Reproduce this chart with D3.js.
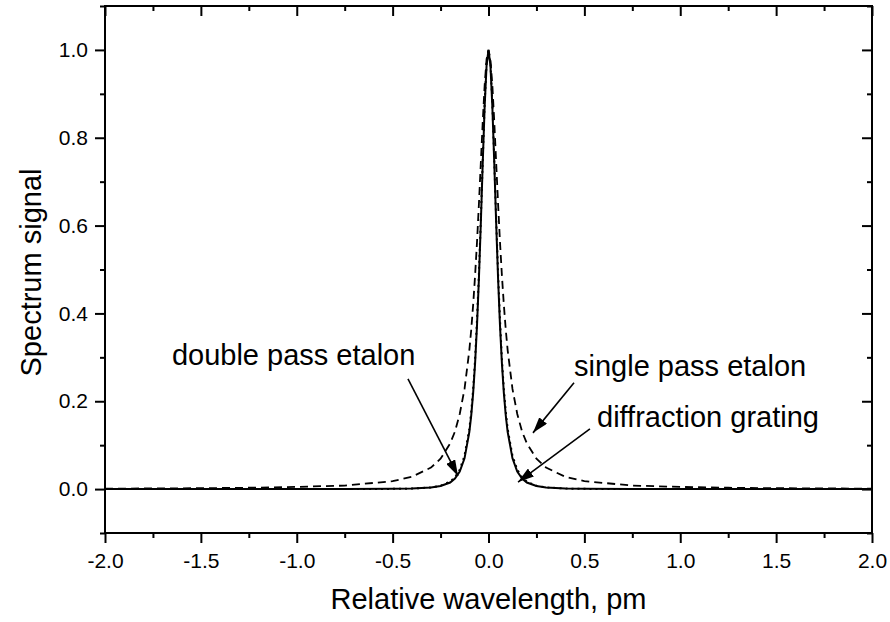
<!DOCTYPE html>
<html>
<head>
<meta charset="utf-8">
<script src="https://cdn.jsdelivr.net/npm/d3@7"></script>
<style>
  body { margin: 0; background: #fff; }
  svg { display: block; font-family: "Liberation Sans", Arial, sans-serif; }
</style>
</head>
<body>
<svg id="chart" width="890" height="622"></svg>
<script>
// relative wavelength grid, pm
var xs = [-2.0,-1.75,-1.5,-1.25,-1.0,-0.75,-0.5,-0.4,-0.3,-0.25,-0.2,-0.175,-0.15,-0.125,-0.1,-0.09,-0.08,-0.07,-0.06,-0.05,-0.04,-0.03,-0.02,-0.01,
  0,
  0.01,0.02,0.03,0.04,0.05,0.06,0.07,0.08,0.09,0.1,0.125,0.15,0.175,0.2,0.25,0.3,0.4,0.5,0.75,1.0,1.25,1.5,1.75,2.0];

// single pass etalon (dashed)
var singlePass = [.001,.0015,.002,.003,.005,.008,.018,.028,.049,.069,.104,.131,.171,.228,.316,.363,.420,.486,.562,.649,.743,.837,.920,.979,
  1,
  .979,.920,.837,.743,.649,.562,.486,.420,.363,.316,.228,.171,.131,.104,.069,.049,.028,.018,.008,.005,.003,.002,.0015,.001];

// double pass etalon (solid)
var doublePass = [0,0,0,0,0,.0001,.0005,.0012,.0035,.007,.015,.024,.040,.070,.130,.168,.219,.286,.372,.479,.606,.743,.872,.965,
  1,
  .965,.872,.743,.606,.479,.372,.286,.219,.168,.130,.070,.040,.024,.015,.007,.0035,.0012,.0005,.0001,0,0,0,0,0];

// diffraction grating (dotted)
var grating = [0,0,0,0,0,.0001,.0005,.0012,.0038,.0075,.017,.027,.044,.076,.137,.176,.228,.295,.385,.490,.615,.750,.880,.970,
  1,
  .970,.880,.750,.615,.490,.385,.295,.228,.176,.137,.076,.044,.027,.017,.0075,.0038,.0012,.0005,.0001,0,0,0,0,0];

var xTicks = [-2.0,-1.5,-1.0,-0.5,0.0,0.5,1.0,1.5,2.0];
var xMinor = [-1.75,-1.25,-0.75,-0.25,0.25,0.75,1.25,1.75];
var yTicks = [0.0,0.2,0.4,0.6,0.8,1.0];
var yMinor = [-0.1,0.1,0.3,0.5,0.7,0.9,1.1];

// annotation text, label anchor and arrow tail/tip in data units
var labels = ["double pass etalon", "single pass etalon", "diffraction grating"];
var labelAt = [[-1.651, 0.283], [0.446, 0.2575], [0.566, 0.141]];
var arrowFrom = [[-0.42, 0.251], [0.446, 0.242], [0.529, 0.137]];
var arrowTo = [[-0.159, 0.030], [0.232, 0.128], [0.154, 0.016]];

(function() {
var pLeft = 105, pRight = 872, pTop = 6, pBottom = 533;

var svg = d3.select("#chart");

var x = d3.scaleLinear().domain([-2, 2]).range([pLeft, pRight]);
var y = d3.scaleLinear().domain([-0.1, 1.1]).range([pBottom, pTop]);

var defs = svg.append("defs");
defs.append("clipPath").attr("id", "clip")
  .append("rect").attr("x", pLeft).attr("y", pTop).attr("width", pRight - pLeft).attr("height", pBottom - pTop);

defs.append("marker")
  .attr("id", "arrow")
  .attr("markerUnits", "userSpaceOnUse")
  .attr("viewBox", "0 0 16 10")
  .attr("refX", 16).attr("refY", 5)
  .attr("markerWidth", 16).attr("markerHeight", 10)
  .attr("orient", "auto")
  .append("path").attr("d", "M0,0 L16,5 L0,10 Z").attr("fill", "#000");

// plain hyphen minus like the original
var fmt = function(d) { return d3.format(".1f")(d).replace("\u2212", "-"); };

// axes: bottom/left ticks outward, top/right mirrored inward
svg.append("g").attr("transform", "translate(0," + pBottom + ")")
  .call(d3.axisBottom(x).tickValues(xTicks).tickSize(10).tickPadding(10).tickFormat(fmt));
svg.append("g").attr("transform", "translate(0," + pBottom + ")")
  .call(d3.axisBottom(x).tickValues(xMinor).tickSize(5).tickFormat(""));
svg.append("g").attr("transform", "translate(0," + pTop + ")")
  .call(d3.axisBottom(x).tickValues(xTicks).tickSize(10).tickFormat(""));
svg.append("g").attr("transform", "translate(0," + pTop + ")")
  .call(d3.axisBottom(x).tickValues(xMinor).tickSize(5).tickFormat(""));

svg.append("g").attr("transform", "translate(" + pLeft + ",0)")
  .call(d3.axisLeft(y).tickValues(yTicks).tickSize(10).tickPadding(7).tickFormat(fmt));
svg.append("g").attr("transform", "translate(" + pLeft + ",0)")
  .call(d3.axisLeft(y).tickValues(yMinor).tickSize(5).tickFormat(""));
svg.append("g").attr("transform", "translate(" + pRight + ",0)")
  .call(d3.axisLeft(y).tickValues(yTicks).tickSize(10).tickFormat(""));
svg.append("g").attr("transform", "translate(" + pRight + ",0)")
  .call(d3.axisLeft(y).tickValues(yMinor).tickSize(5).tickFormat(""));

svg.selectAll(".domain").remove();
svg.selectAll(".tick line").attr("stroke", "#000").attr("stroke-width", 2);
svg.selectAll(".tick text").attr("fill", "#000").style("font-size", "21px")
  .style("font-family", "'Liberation Sans', Arial, sans-serif");

svg.append("rect")
  .attr("x", pLeft).attr("y", pTop).attr("width", pRight - pLeft).attr("height", pBottom - pTop)
  .attr("fill", "none").attr("stroke", "#000").attr("stroke-width", 2);

// curves
var line = d3.line()
  .x(function(d) { return x(d[0]); })
  .y(function(d) { return y(d[1]); });

var series = [
  { vals: singlePass, dash: "8,5", width: 1.8 },
  { vals: grating, dash: "2,4", width: 2 },
  { vals: doublePass, dash: null, width: 2 }
];

series.forEach(function(s) {
  svg.append("path")
    .datum(xs.map(function(v, i) { return [v, s.vals[i]]; }))
    .attr("clip-path", "url(#clip)")
    .attr("fill", "none")
    .attr("stroke", "#000")
    .attr("stroke-width", s.width)
    .attr("stroke-dasharray", s.dash)
    .attr("d", line);
});

// annotations
for (var i = 0; i < labels.length; i++) {
  svg.append("text")
    .attr("x", x(labelAt[i][0])).attr("y", y(labelAt[i][1]))
    .style("font-size", "29px").attr("fill", "#000")
    .text(labels[i]);
  svg.append("line")
    .attr("x1", x(arrowFrom[i][0])).attr("y1", y(arrowFrom[i][1]))
    .attr("x2", x(arrowTo[i][0])).attr("y2", y(arrowTo[i][1]))
    .attr("stroke", "#000").attr("stroke-width", 1.6)
    .attr("marker-end", "url(#arrow)");
}

// axis titles
svg.append("text")
  .attr("x", (pLeft + pRight) / 2).attr("y", 609)
  .attr("text-anchor", "middle").style("font-size", "29px")
  .text("Relative wavelength, pm");

svg.append("text")
  .attr("transform", "translate(41," + ((pTop + pBottom) / 2 + 3) + ") rotate(-90)")
  .attr("text-anchor", "middle").style("font-size", "29px")
  .text("Spectrum signal");
})();
</script>
</body>
</html>
